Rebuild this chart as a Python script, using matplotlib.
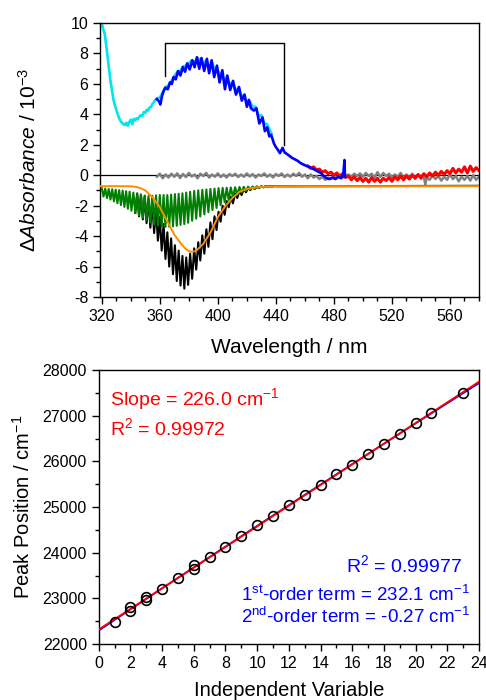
import numpy as np
import matplotlib
matplotlib.use('Agg')
import matplotlib.pyplot as plt
from matplotlib.ticker import MultipleLocator

plt.rcParams['font.family'] = ['Liberation Sans', 'DejaVu Sans']
plt.rcParams['mathtext.fontset'] = 'custom'
plt.rcParams['mathtext.rm'] = 'Liberation Sans'
plt.rcParams['mathtext.it'] = 'Liberation Sans:italic'
plt.rcParams['axes.unicode_minus'] = False

# ------------------------------------------------------------
# top panel: spectra
# ------------------------------------------------------------
cyan_nm = [318.8, 320.0, 321.0, 322.0, 323.0, 324.0, 325.0, 326.0, 327.0, 328.0,
           329.0, 330.0, 331.0, 332.0, 333.0, 334.0, 335.0, 336.0, 337.0, 338.0,
           339.0, 340.0, 341.0, 342.0, 343.0, 344.0, 345.0, 346.0, 347.0, 348.0,
           349.0, 350.0, 351.0, 352.0, 353.0, 354.0, 355.0, 356.0, 357.0, 358.0,
           360.0, 362.0, 364.0, 366.0, 368.0, 370.0, 372.0, 374.0, 376.0, 378.0,
           380.0, 382.0, 384.0, 386.0, 388.0, 390.0, 392.0, 394.0, 396.0, 398.0,
           400.0, 402.0, 404.0, 406.0, 408.0, 410.0, 412.0, 414.0, 416.0, 418.0,
           420.0, 422.0, 424.0, 426.0, 428.0, 430.0, 432.0, 434.0, 436.0, 437.0]
cyan_val = [10.6, 10.0, 9.6, 9.3, 8.6, 7.8, 7.0, 6.2, 5.6, 5.0,
            4.6, 4.3, 4.0, 3.75, 3.55, 3.45, 3.35, 3.30, 3.45, 3.25,
            3.50, 3.65, 3.35, 3.70, 3.60, 3.75, 3.70, 3.85, 3.95, 3.90,
            4.15, 4.10, 4.30, 4.25, 4.45, 4.50, 4.70, 4.80, 4.95, 5.05,
            5.10, 5.45, 5.80, 5.90, 6.20, 6.50, 6.80, 6.85, 7.15, 7.20,
            7.35, 7.55, 7.45, 7.70, 7.55, 7.30, 7.55, 7.10, 7.40, 6.90,
            6.85, 6.60, 6.30, 6.40, 5.95, 6.10, 5.60, 5.70, 5.20, 5.25,
            4.80, 4.85, 4.50, 4.50, 3.90, 3.95, 3.40, 3.35, 2.90, 2.75]

blue_nm = [358.0, 359.5, 360.4, 361.5, 362.5, 363.8, 365.5, 367.0, 368.3, 369.5,
           371.0, 372.6, 374.2, 375.9, 377.4, 378.9, 380.6, 382.4, 384.0, 385.6,
           387.2, 388.7, 390.6, 392.5, 394.0, 395.7, 397.5, 399.4, 401.2, 403.1,
           404.9, 406.5, 408.5, 410.5, 412.5, 414.6, 416.5, 418.4, 420.0, 421.4,
           422.8, 424.8, 426.6, 428.6, 430.8, 432.4, 434.0, 435.5, 436.8, 438.6,
           440.0, 441.5, 442.8, 444.6, 446.0, 447.5, 449.0, 451.0, 453.0, 455.0,
           457.0, 459.0, 461.0, 463.0, 465.0, 467.0, 469.0, 471.0, 473.0, 475.0,
           477.0, 479.0, 481.0, 483.0, 485.0, 486.5, 487.3, 487.6]
blue_val = [5.00, 4.85, 4.65, 5.20, 5.50, 5.75, 5.65, 6.10, 6.00, 6.45,
            6.30, 6.85, 6.55, 7.10, 6.80, 7.35, 6.95, 7.55, 7.10, 7.75,
            7.00, 7.70, 6.85, 7.65, 6.70, 7.55, 6.45, 7.20, 6.10, 6.90,
            5.65, 6.55, 5.60, 6.20, 5.30, 5.80, 4.90, 5.30, 4.50, 4.95,
            4.40, 4.25, 4.40, 3.40, 3.80, 2.90, 3.15, 2.55, 2.65, 2.10,
            1.85, 1.65, 1.45, 1.80, 1.50, 1.40, 1.30, 1.15, 1.05, 0.95,
            0.80, 0.70, 0.62, 0.55, 0.45, 0.35, 0.25, 0.15, -0.05, -0.20,
            -0.25, -0.15, -0.25, -0.10, -0.20, 0.10, 1.00, -0.10]

gray_nm = list(range(358, 544, 2)) + [543, 544] + list(range(546, 581, 2))
gray_val = [-0.10, 0.10, -0.20, 0.05, -0.15, 0.10, -0.10, 0.12, -0.18, 0.08,
            -0.12, 0.15, -0.08, 0.05, -0.20, 0.10, -0.05, 0.15, -0.15, 0.05,
            -0.10, 0.12, -0.12, 0.05, -0.15, 0.08, -0.05, 0.10, -0.12, 0.05,
            -0.10, 0.12, -0.08, 0.08, -0.15, 0.05, -0.05, 0.12, -0.10, 0.05,
            -0.15, 0.08, -0.05, 0.12, -0.12, 0.05, -0.10, 0.10, -0.05, 0.15,
            -0.10, 0.05, -0.20, 0.05, -0.15, -0.05, -0.25, -0.10, -0.30, -0.15,
            -0.25, -0.05, -0.20, 0.00, -0.15, -0.05, 0.05, -0.10, 0.10, -0.05,
            0.12, -0.10, 0.15, -0.05, 0.10, -0.15, 0.20, -0.10, 0.15, -0.05,
            0.10, -0.15, 0.05, -0.10, 0.15, -0.20, 0.05, -0.15, 0.10, -0.20,
            0.00, -0.25, -0.10, -0.60, -0.15,
            -0.30, 0.00, -0.25, -0.05, -0.35, -0.10, -0.30, 0.05, -0.25, -0.05,
            -0.40, -0.10, -0.30, -0.05, -0.35, 0.00, -0.30, -0.10]

red_nm = list(range(462, 581, 2))
red_val = [0.60, 0.45, 0.55, 0.35, 0.40, 0.20, 0.30, 0.10, 0.20, 0.00,
           0.15, -0.05, 0.10, -0.15, -0.05, -0.30, -0.10, -0.35, -0.15, -0.40,
           -0.20, -0.45, -0.15, -0.40, -0.20, -0.45, -0.20, -0.35, -0.15, -0.40,
           -0.10, -0.30, -0.05, -0.30, -0.05, -0.25, 0.00, -0.20, 0.05, -0.15,
           0.10, -0.10, 0.15, -0.05, 0.20, 0.00, 0.25, 0.05, 0.30, 0.10,
           0.45, 0.15, 0.40, 0.20, 0.55, 0.15, 0.60, 0.25, 0.50, 0.30]

# oscillating components: successive maxima / minima
osc_nm = [320.0, 321.2, 322.4, 323.6, 324.8, 326.0, 327.2, 328.4, 329.6, 330.8,
          332.0, 333.2, 334.4, 335.6, 336.8, 338.0, 339.2, 340.5, 341.8, 343.1,
          344.4, 345.7, 347.0, 348.3, 349.6, 350.9, 352.2, 353.5, 354.8, 356.1,
          357.4, 358.7, 360.0, 361.3, 362.6, 363.9, 365.2, 366.5, 367.8, 369.1,
          370.4, 371.7, 373.0, 374.3, 375.6, 376.9, 378.2, 379.5, 380.9, 382.3,
          383.7, 385.1, 386.5, 387.9, 389.3, 390.7, 392.1, 393.5, 394.9, 396.3,
          397.7, 399.1, 400.5, 401.9, 403.3, 404.7, 406.1, 407.5, 408.9, 410.4,
          411.9, 413.4, 414.9, 416.4, 417.9, 419.4, 420.9, 422.4, 423.9, 425.4,
          426.9, 428.4, 429.9, 431.4, 432.9, 434.4, 435.9, 437.4, 438.9, 440.4,
          580.0]
green_val = [-0.85, -1.40, -0.87, -1.50, -0.90, -1.60, -0.92, -1.72, -0.95, -1.84,
             -0.98, -1.96, -1.01, -2.08, -1.05, -2.20, -1.08, -2.33, -1.14, -2.48,
             -1.20, -2.64, -1.26, -2.80, -1.33, -2.95, -1.36, -3.11, -1.35, -3.24,
             -1.32, -3.31, -1.30, -3.36, -1.30, -3.39, -1.30, -3.39, -1.28, -3.36,
             -1.24, -3.32, -1.22, -3.26, -1.19, -3.21, -1.14, -3.12, -1.08, -2.99,
             -1.03, -2.85, -0.99, -2.71, -0.96, -2.57, -0.93, -2.43, -0.90, -2.29,
             -0.88, -2.15, -0.85, -1.97, -0.83, -1.77, -0.82, -1.63, -0.80, -1.43,
             -0.79, -1.28, -0.77, -1.14, -0.76, -1.03, -0.75, -0.95, -0.74, -0.88,
             -0.73, -0.83, -0.72, -0.79, -0.72, -0.76, -0.71, -0.74, -0.71, -0.72,
             -0.70]
BLACK_FROM = 19  # black sum curve drawn from osc_nm[19] onward (hidden before)
black_val = [-2.48,
             -1.20, -2.70, -1.28, -2.90, -1.38, -3.15, -1.55, -3.45, -1.80, -3.80,
             -2.20, -4.30, -2.75, -4.95, -3.20, -5.50, -3.75, -6.00, -4.15, -6.50,
             -4.60, -6.95, -4.95, -7.25, -5.30, -7.45, -5.40, -7.20, -5.15, -6.80,
             -4.80, -6.20, -4.40, -5.60, -3.95, -5.15, -3.55, -4.70, -3.10, -4.20,
             -2.70, -3.60, -2.40, -3.05, -2.00, -2.60, -1.70, -2.10, -1.42, -1.85,
             -1.20, -1.50, -1.02, -1.30, -0.90, -1.12, -0.84, -0.98, -0.79, -0.90,
             -0.77, -0.84, -0.74, -0.79, -0.73, -0.76, -0.72, -0.74, -0.71, -0.72,
             -0.70]

orange_nm = [318.8, 338, 342, 346, 350, 355, 360, 365, 370, 375, 378, 380, 382, 384,
             386, 390, 395, 400, 405, 410, 415, 420, 425, 430, 440, 460, 580]
orange_val = [-0.72, -0.72, -0.74, -0.82, -1.00, -1.45, -2.10, -3.00, -3.90, -4.55,
              -4.85, -4.98, -5.03, -5.00, -4.88, -4.50, -3.75, -2.75, -2.05, -1.50,
              -1.08, -0.90, -0.82, -0.77, -0.73, -0.72, -0.72]

bracket_nm = [363.6, 363.6, 445.7, 445.7]
bracket_val = [6.5, 8.66, 8.66, 2.0]

# ------------------------------------------------------------
# bottom panel: peak positions
# ------------------------------------------------------------
idx = [1, 2, 2, 3, 3, 4, 5, 6, 6, 7, 8, 9, 10, 11, 12, 13, 14, 15, 16, 17,
       18, 19, 20, 21, 23]
peak_pos = [22490, 22730, 22800, 22960, 23040, 23210, 23440, 23650, 23730, 23900,
            24120, 24360, 24600, 24810, 25040, 25270, 25480, 25730, 25930, 26150,
            26390, 26600, 26840, 27060, 27490]

fig = plt.figure(figsize=(4.86, 7.0), dpi=100)
ax1 = fig.add_axes([0.2058, 0.5757, 0.7798, 0.3914])
ax2 = fig.add_axes([0.2031, 0.0800, 0.7825, 0.3914])

# --- top panel ---
ax1.axhline(0, color='black', lw=0.9, zorder=1)
ax1.plot(cyan_nm, cyan_val, color='#00E5EE', lw=1.9, zorder=2)
ax1.plot(blue_nm, blue_val, color='#0000FF', lw=1.9, zorder=3)
ax1.plot(gray_nm, gray_val, color='#808080', lw=1.8, zorder=2)
ax1.plot(red_nm, red_val, color='#FF0000', lw=2.2, zorder=2.5)
ax1.plot(osc_nm[BLACK_FROM:], black_val, color='black', lw=1.5, zorder=4)
ax1.plot(osc_nm, green_val, color='#008000', lw=1.5, zorder=5)
ax1.plot(orange_nm, orange_val, color='#FF8C00', lw=1.4, zorder=6)
ax1.plot(bracket_nm, bracket_val, color='black', lw=1.0, zorder=7)

ax1.set_xlim(318.8, 580)
ax1.set_ylim(-8, 10)
ax1.xaxis.set_major_locator(MultipleLocator(40))
ax1.xaxis.set_minor_locator(MultipleLocator(10))
ax1.yaxis.set_major_locator(MultipleLocator(2))
ax1.yaxis.set_minor_locator(MultipleLocator(1))
ax1.set_xlabel('Wavelength / nm', fontsize=15, labelpad=10)
ax1.set_ylabel(r'$\Delta\mathit{Absorbance}$ / 10$^{-3}$', fontsize=15, labelpad=22)

# --- bottom panel ---
xfit = np.array([0.0, 24.0])
xq = np.linspace(0, 24, 50)
lin = np.polyfit(idx, peak_pos, 1)
quad = np.polyfit(idx, peak_pos, 2)
ax2.plot(xq, np.polyval(quad, xq), color='#0000FF', lw=1.2, zorder=2)
ax2.plot(xfit, np.polyval(lin, xfit), color='#FF0000', lw=1.4, zorder=3)
ax2.plot(idx, peak_pos, 'o', mfc='none', mec='black', ms=7, mew=1.2, zorder=4)

ax2.set_xlim(0, 24)
ax2.set_ylim(22000, 28000)
ax2.xaxis.set_major_locator(MultipleLocator(2))
ax2.xaxis.set_minor_locator(MultipleLocator(1))
ax2.yaxis.set_major_locator(MultipleLocator(1000))
ax2.yaxis.set_minor_locator(MultipleLocator(500))
ax2.set_xlabel('Independent Variable', fontsize=14.5, labelpad=7)
ax2.set_ylabel(r'Peak Position / cm$^{-1}$', fontsize=14.5, labelpad=6)

ax2.text(0.71, 27234, r'Slope = 226.0 cm$^{-1}$', color='#FF0000', fontsize=14,
         ha='left', va='baseline')
ax2.text(0.71, 26577, r'R$^{2}$ = 0.99972', color='#FF0000', fontsize=14,
         ha='left', va='baseline')
ax2.text(22.95, 23584, r'R$^{2}$ = 0.99977', color='#0000FF', fontsize=14,
         ha='right', va='baseline')
ax2.text(23.45, 22937, r'1$^{\mathrm{st}}$-order term = 232.1 cm$^{-1}$',
         color='#0000FF', fontsize=13.5, ha='right', va='baseline')
ax2.text(23.45, 22454, r'2$^{\mathrm{nd}}$-order term = -0.27 cm$^{-1}$',
         color='#0000FF', fontsize=13.5, ha='right', va='baseline')

for ax in (ax1, ax2):
    for s in ax.spines.values():
        s.set_linewidth(1.0)
    ax.tick_params(which='both', direction='out', top=False, right=False,
                   labelsize=11.5, width=1.0)
    ax.tick_params(which='major', length=5)
    ax.tick_params(which='minor', length=3)

fig.savefig('out.png', dpi=100)
